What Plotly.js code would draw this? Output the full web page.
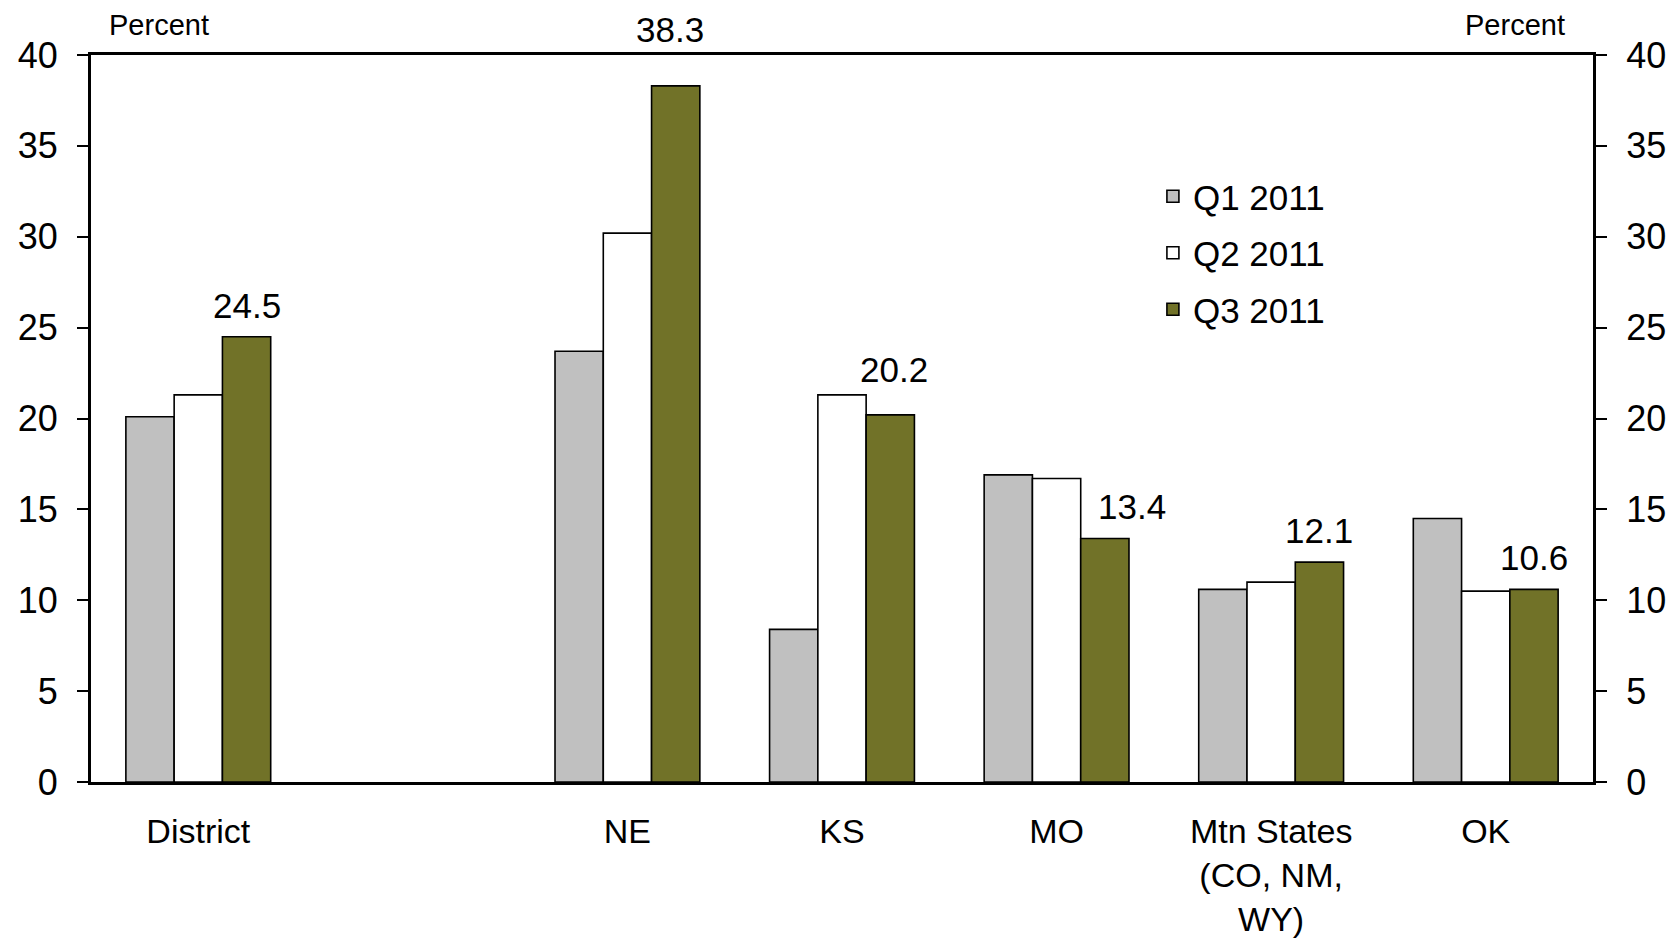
<!DOCTYPE html>
<html>
<head>
<meta charset="utf-8">
<script src="https://cdn.plot.ly/plotly-3.0.1.min.js"></script>
<style>html,body{margin:0;padding:0;background:#fff;}#chart{width:1680px;height:942px;}</style>
</head>
<body>
<div id="chart"></div>
<script>
var categories = ["District", " ", "NE", "KS", "MO", "Mtn States<br>(CO, NM,<br>WY)", "OK"];
var q1 = [20.1, null, 23.7, 8.4, 16.9, 10.6, 14.5];
var q2 = [21.3, null, 30.2, 21.3, 16.7, 11.0, 10.5];
var q3 = [24.5, null, 38.3, 20.2, 13.4, 12.1, 10.6];
var yTicks = [0, 5, 10, 15, 20, 25, 30, 35, 40];

// label placement tweaks (style only, pixels)
var labelDx = [0, 0, -6, 4, 27, 0, 0];
var labelDy = [10, 0, 35, 24, 10, 10, 10];

var font = "Liberation Sans, Arial, sans-serif";
var line = {color: "#000", width: 1.6};

var marginL = 91, marginR = 87, W = 1680;
var slotW = (W - marginL - marginR) / categories.length;
var bargap = 0.325;
var barW = slotW * (1 - bargap) / 3;

var traces = [
  {type: "bar", name: "Q1 2011", legendgroup: "a", x: categories, y: q1, marker: {color: "#C0C0C0", line: line}},
  {type: "bar", name: "Q2 2011", legendgroup: "b", x: categories, y: q2, marker: {color: "#FFFFFF", line: line}},
  {type: "bar", name: "Q3 2011", legendgroup: "c", x: categories, y: q3, marker: {color: "#717228", line: line}},
  {type: "scatter", x: categories, y: q1, yaxis: "y2", mode: "markers",
   marker: {opacity: 0}, showlegend: false, hoverinfo: "skip"}
];

var annotations = [
  {text: "Percent", xref: "paper", yref: "paper", x: 0.0107, y: 1, xanchor: "left", yanchor: "bottom",
   yshift: 12, showarrow: false, font: {family: font, size: 29, color: "#000"}},
  {text: "Percent", xref: "paper", yref: "paper", x: 0.983, y: 1, xanchor: "right", yanchor: "bottom",
   yshift: 12, showarrow: false, font: {family: font, size: 29, color: "#000"}}
];
categories.forEach(function(c, i) {
  if (q3[i] === null) return;
  annotations.push({text: q3[i].toFixed(1), x: c, y: q3[i], xref: "x", yref: "y",
    xanchor: "center", yanchor: "bottom", xshift: barW + labelDx[i], yshift: labelDy[i],
    showarrow: false, font: {family: font, size: 35, color: "#000"}});
});

var tickfont = {family: font, size: 36, color: "#000"};
var layout = {
  width: 1680, height: 942,
  margin: {l: marginL, r: marginR, t: 55, b: 160},
  paper_bgcolor: "#fff", plot_bgcolor: "#fff",
  font: {family: font, color: "#000"},
  barmode: "group", bargap: bargap, bargroupgap: 0,
  showlegend: true,
  legend: {x: 0.707, y: 0.846, xanchor: "left", yanchor: "top",
           font: {family: font, size: 35, color: "#000"},
           bgcolor: "rgba(0,0,0,0)", tracegroupgap: 8, itemwidth: 30},
  xaxis: {type: "category", showline: true, linecolor: "#000", linewidth: 3,
          mirror: true, ticks: "", showgrid: false, zeroline: false,
          tickfont: {family: font, size: 34, color: "#000"}, ticklabelstandoff: 17},
  yaxis: {range: [0, 40], tickvals: yTicks, showline: true, linecolor: "#000", linewidth: 3,
          ticks: "outside", ticklen: 11, tickwidth: 2, tickcolor: "#000",
          showgrid: false, zeroline: false, mirror: false,
          tickfont: tickfont, ticklabelstandoff: 12},
  yaxis2: {range: [0, 40], tickvals: yTicks, overlaying: "y", side: "right", anchor: "x",
           showline: true, linecolor: "#000", linewidth: 3,
           ticks: "outside", ticklen: 11, tickwidth: 2, tickcolor: "#000",
           showgrid: false, zeroline: false,
           tickfont: tickfont, ticklabelstandoff: 12},
  annotations: annotations
};

Plotly.newPlot("chart", traces, layout, {displayModeBar: false, staticPlot: true});
</script>
</body>
</html>
